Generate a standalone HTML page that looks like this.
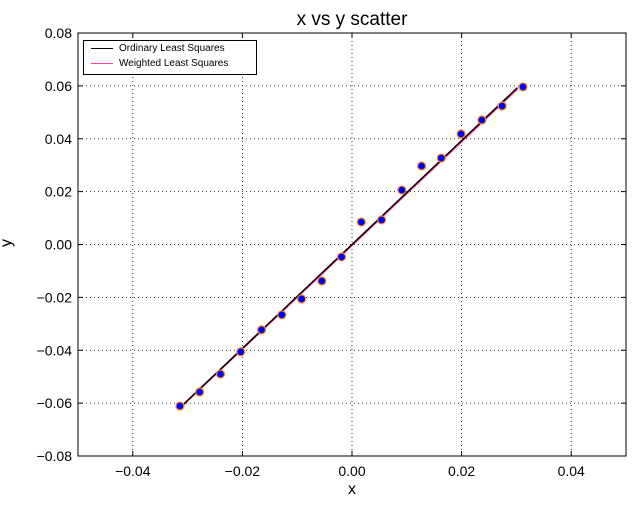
<!DOCTYPE html>
<html><head><meta charset="utf-8"><style>
html,body{margin:0;background:#fff;font-family:"Liberation Sans","DejaVu Sans",sans-serif;width:640px;height:512px;overflow:hidden}
svg{display:block}
</style></head><body>
<svg id="c" width="640" height="512" xmlns="http://www.w3.org/2000/svg"></svg>
<script>
const xs=[-0.0314,-0.0278,-0.0240,-0.0203,-0.0165,-0.0128,-0.0092,-0.0055,-0.0019,0.0017,0.0054,0.0091,0.0127,0.0163,0.0199,0.0237,0.0274,0.0312];
const ys=[-0.0611,-0.0558,-0.0490,-0.0406,-0.0323,-0.0266,-0.0206,-0.0138,-0.0047,0.0085,0.0093,0.0206,0.0297,0.0327,0.0418,0.0471,0.0524,0.0596];
const olsCoef=[0.0,1.965];
const wlsCoef=[-0.0004,1.96];
const lineRange=[-0.0314,0.0302];
const xTicks=[-0.04,-0.02,0,0.02,0.04];
const xTickLabels=["−0.04","−0.02","0.00","0.02","0.04"];
const yTicks=[-0.08,-0.06,-0.04,-0.02,0,0.02,0.04,0.06,0.08];
const yTickLabels=["−0.08","−0.06","−0.04","−0.02","0.00","0.02","0.04","0.06","0.08"];
const L=78,R=626,T=33,B=456;
const sx=v=>L+(v+0.05)/0.1*(R-L);
const sy=v=>B-(v+0.08)/0.16*(B-T);
const svg=document.getElementById('c');
const NS="http://www.w3.org/2000/svg";
function mk(t,a,p){const e=document.createElementNS(NS,t);for(const k in a)e.setAttribute(k,a[k]);(p||svg).appendChild(e);return e;}
xTicks.forEach((v,i)=>{
 const g=mk('line',{x1:sx(v),x2:sx(v),y1:T,y2:B,stroke:'#000','stroke-dasharray':'1,3','stroke-width':0.8});
 
 
 mk('line',{x1:sx(v),x2:sx(v),y1:B,y2:B-5,stroke:'#000'});
 mk('line',{x1:sx(v),x2:sx(v),y1:T,y2:T+5,stroke:'#000'});
 const t=mk('text',{x:sx(v),y:B+20,'text-anchor':'middle','font-size':14});
 t.textContent=xTickLabels[i];
 
 
});
yTicks.forEach((v,i)=>{
 const g=mk('line',{x1:L,x2:R,y1:sy(v),y2:sy(v),stroke:'#000','stroke-dasharray':'1,3','stroke-width':0.8});
 
 
 mk('line',{x1:L,x2:L+5,y1:sy(v),y2:sy(v),stroke:'#000'});
 mk('line',{x1:R,x2:R-5,y1:sy(v),y2:sy(v),stroke:'#000'});
 const t=mk('text',{x:L-6,y:sy(v)+5,'text-anchor':'end','font-size':14});
 t.textContent=yTickLabels[i];
 
 
});
function fitLine(c,col,name){
 const l=mk('line',{x1:sx(lineRange[0]),y1:sy(c[0]+c[1]*lineRange[0]),x2:sx(lineRange[1]),y2:sy(c[0]+c[1]*lineRange[1]),stroke:col,'stroke-width':1.5});
 
 
}
fitLine(wlsCoef,'#ff3fa0','wls-line');
fitLine(olsCoef,'#000','ols-line');
xs.forEach((x,i)=>{
 const p=mk('circle',{cx:sx(x),cy:sy(ys[i]),r:4,fill:'#0000ff',stroke:'#ff8c1a','stroke-width':1.2});
 
 
});
const fr=mk('rect',{x:L,y:T,width:R-L,height:B-T,fill:'none',stroke:'#000'});


</script>
<div style="position:absolute;left:0;top:0;width:640px;height:512px;pointer-events:none">
<div style="position:absolute;left:0;width:704px;top:9px;text-align:center;font-size:19px">x vs y scatter</div>
<div style="position:absolute;left:0;width:704px;top:481px;text-align:center;font-size:16px">x</div>
<div style="position:absolute;left:3px;top:234px;font-size:16px;transform:rotate(-90deg)">y</div>
<div style="position:absolute;left:83px;top:40px;width:172px;height:33px;border:1px solid #000;background:#fff;font-size:10px">
 <div style="position:absolute;left:7px;top:2px;white-space:nowrap"><span style="display:inline-block;width:22px;height:0;border-top:1.5px solid #000;vertical-align:middle;margin-right:6px"></span>Ordinary Least Squares</div>
 <div style="position:absolute;left:7px;top:17px;white-space:nowrap"><span style="display:inline-block;width:22px;height:0;border-top:1.5px solid #ff3fa0;vertical-align:middle;margin-right:6px"></span>Weighted Least Squares</div>
</div>
</div>
</body></html>
